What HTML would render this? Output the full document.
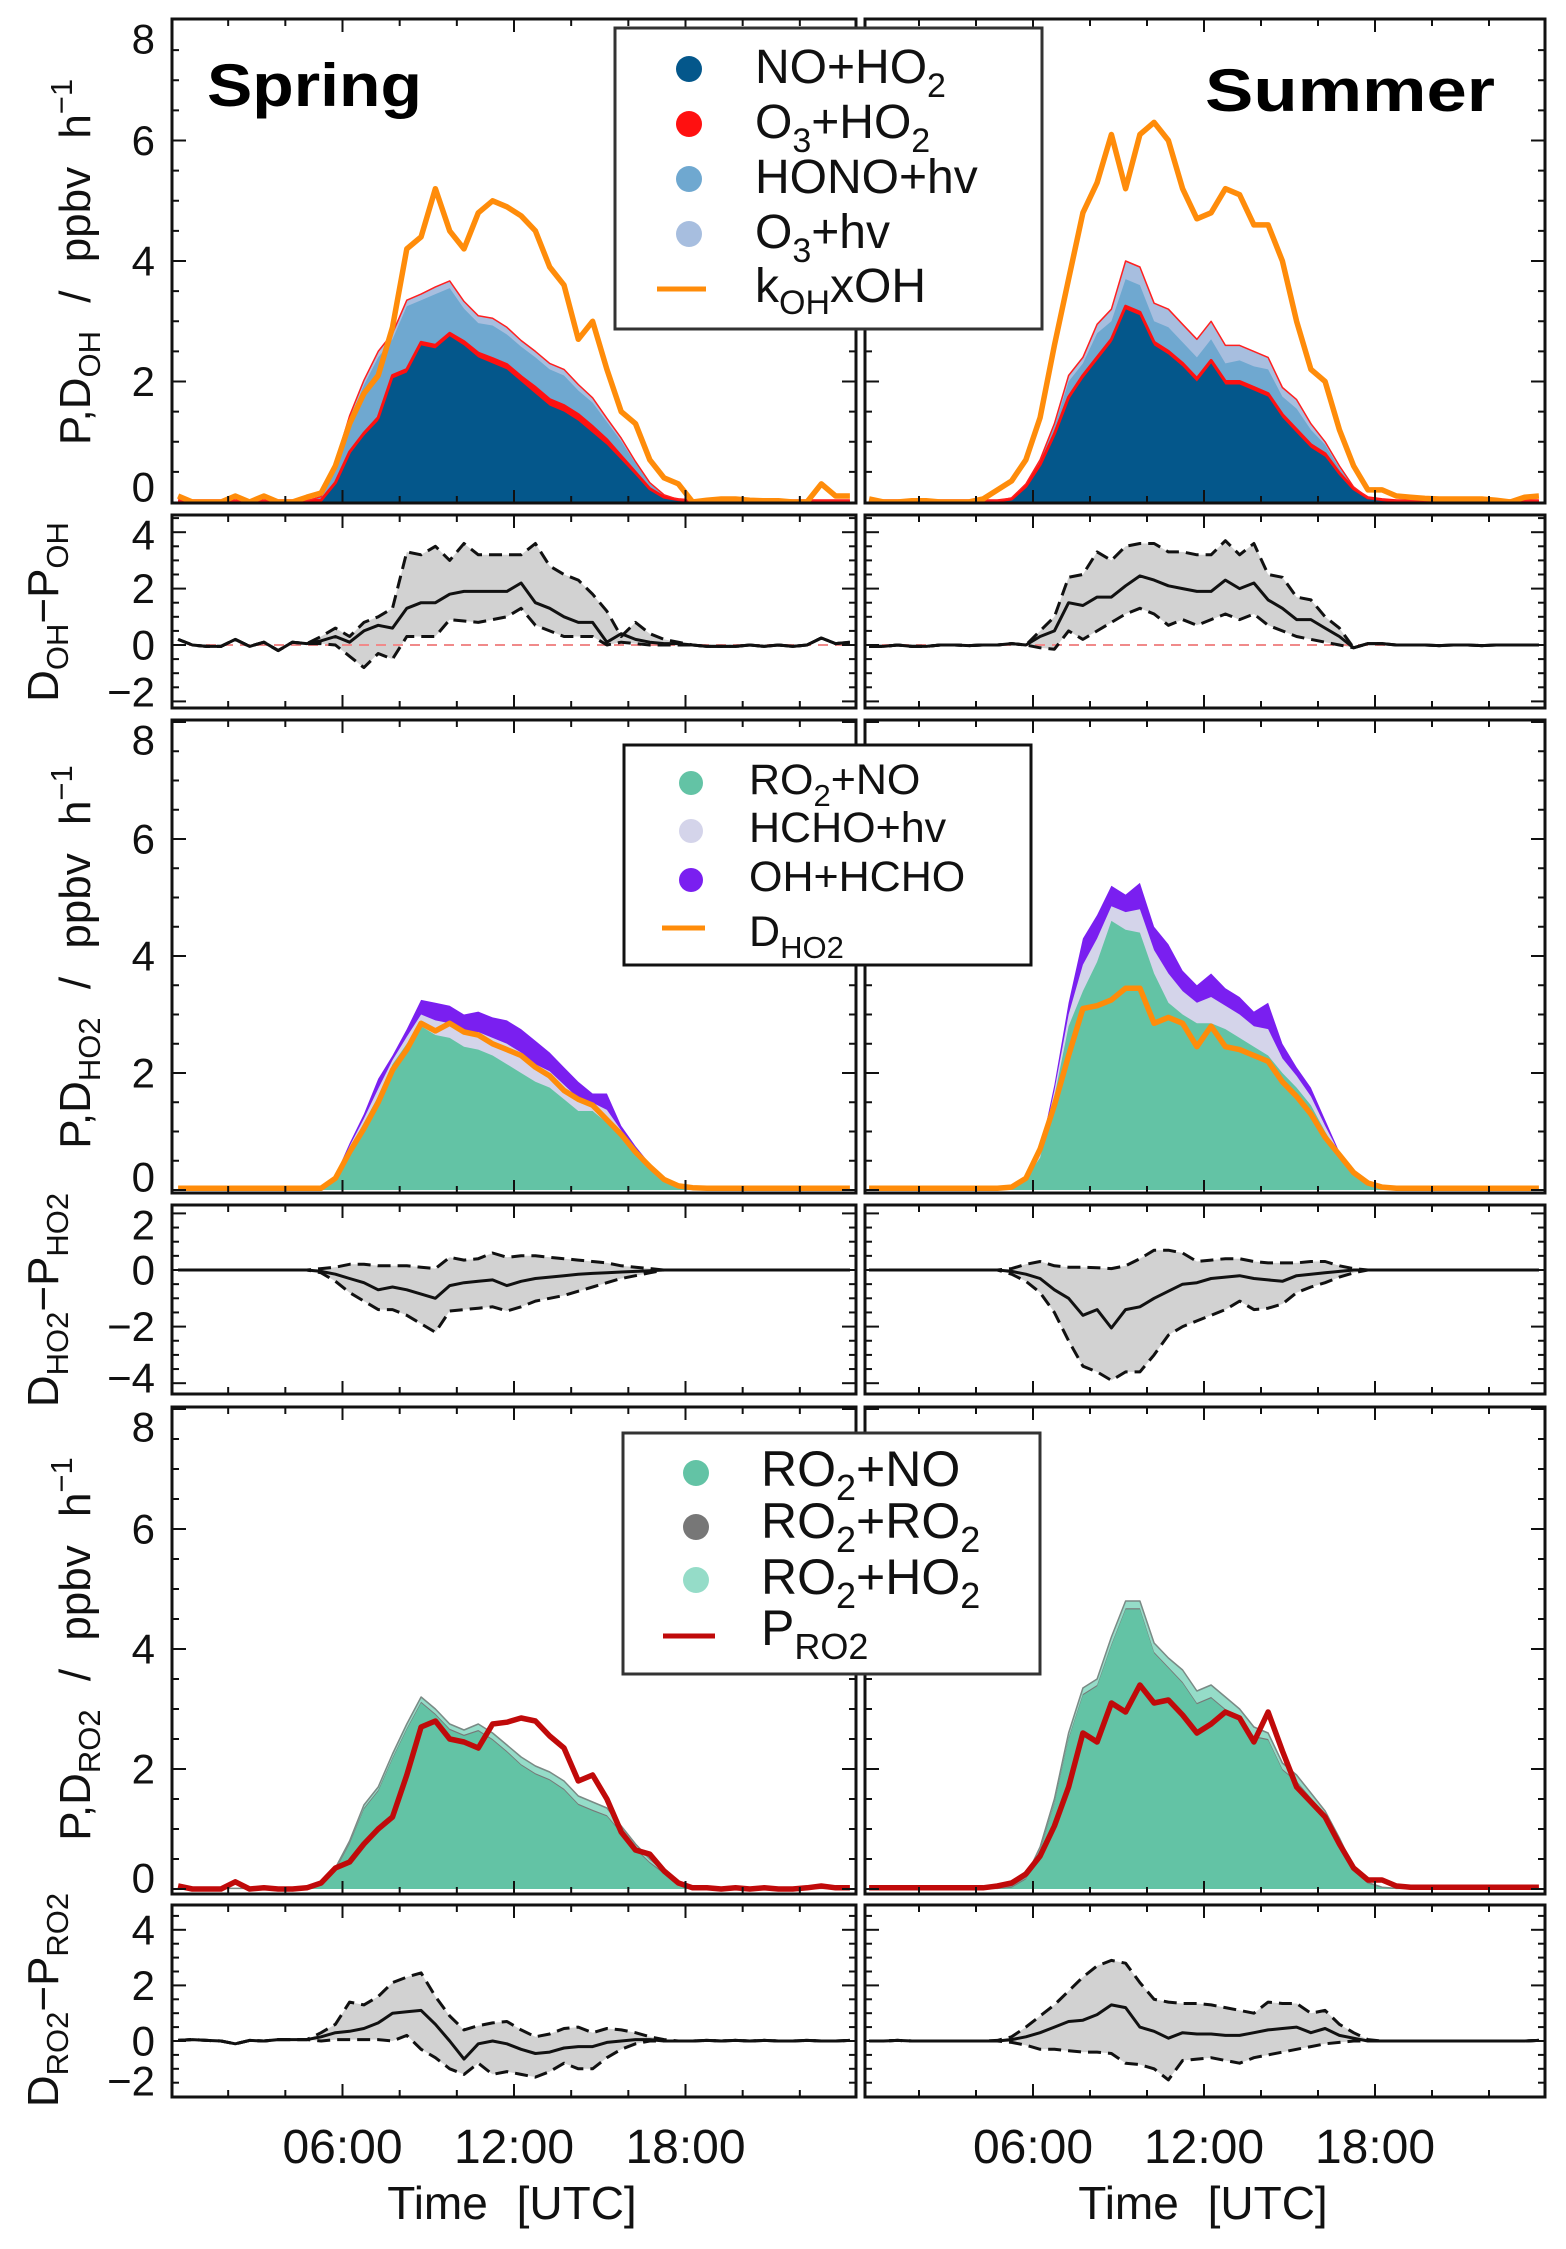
<!DOCTYPE html>
<html><head><meta charset="utf-8"><style>
html,body{margin:0;padding:0;background:#fff;}
svg{display:block;font-family:"Liberation Sans",sans-serif;}
</style></head><body>
<svg id="fig" xmlns="http://www.w3.org/2000/svg" width="1566" height="2249" viewBox="0 0 1566 2249">
<rect width="1566" height="2249" fill="#fff"/>
<g id="plots"></g>
<g id="static">
  <text x="207" y="106" font-size="60" font-weight="bold" textLength="215" lengthAdjust="spacingAndGlyphs">Spring</text>
  <text x="1205" y="111" font-size="60" font-weight="bold" textLength="290" lengthAdjust="spacingAndGlyphs">Summer</text>

  <g>
    <rect x="615" y="28" width="427" height="301" fill="#fff" stroke="#333" stroke-width="3"/>
    <circle cx="689" cy="69" r="13" fill="#04578b"/>
    <circle cx="689" cy="124" r="13" fill="#ff1010"/>
    <circle cx="689" cy="179" r="13" fill="#6fa8d0"/>
    <circle cx="689" cy="234" r="13" fill="#a7bedf"/>
    <line x1="657" y1="289" x2="706" y2="289" stroke="#ff8c0a" stroke-width="5"/>
    <g font-size="48" fill="#111">
      <text x="755" y="83">NO+HO<tspan font-size="34" dy="14">2</tspan></text>
      <text x="755" y="138">O<tspan font-size="34" dy="14">3</tspan><tspan dy="-14">+HO</tspan><tspan font-size="34" dy="14">2</tspan></text>
      <text x="755" y="193">HONO+hv</text>
      <text x="755" y="248">O<tspan font-size="34" dy="14">3</tspan><tspan dy="-14">+hv</tspan></text>
      <text x="755" y="302">k<tspan font-size="34" dy="12">OH</tspan><tspan dy="-12">xOH</tspan></text>
    </g>
  </g>

  <g>
    <rect x="624" y="745" width="407" height="220" fill="#fff" stroke="#111" stroke-width="3"/>
    <circle cx="691" cy="783" r="12" fill="#63c3a5"/>
    <circle cx="691" cy="831" r="12" fill="#d4d4ea"/>
    <circle cx="691" cy="880" r="12" fill="#7a1ff0"/>
    <line x1="662" y1="928" x2="705" y2="928" stroke="#ff8c0a" stroke-width="5"/>
    <g font-size="43" fill="#111">
      <text x="749" y="794">RO<tspan font-size="31" dy="12">2</tspan><tspan dy="-12">+NO</tspan></text>
      <text x="749" y="842">HCHO+hv</text>
      <text x="749" y="891">OH+HCHO</text>
      <text x="749" y="946">D<tspan font-size="31" dy="12">HO2</tspan></text>
    </g>
  </g>

  <g>
    <rect x="623" y="1433" width="417" height="241" fill="#fff" stroke="#333" stroke-width="3"/>
    <circle cx="696" cy="1473" r="13" fill="#63c3a5"/>
    <circle cx="696" cy="1527" r="13" fill="#777"/>
    <circle cx="696" cy="1580" r="13" fill="#95dcc8"/>
    <line x1="663" y1="1636" x2="715" y2="1636" stroke="#c00a0a" stroke-width="5"/>
    <g font-size="50" fill="#111">
      <text x="761" y="1486">RO<tspan font-size="36" dy="14">2</tspan><tspan dy="-14">+NO</tspan></text>
      <text x="761" y="1538">RO<tspan font-size="36" dy="14">2</tspan><tspan dy="-14">+RO</tspan><tspan font-size="36" dy="14">2</tspan></text>
      <text x="761" y="1594">RO<tspan font-size="36" dy="14">2</tspan><tspan dy="-14">+HO</tspan><tspan font-size="36" dy="14">2</tspan></text>
      <text x="761" y="1645">P<tspan font-size="36" dy="14">RO2</tspan></text>
    </g>
  </g>

  <g font-size="44" fill="#111" text-anchor="middle" word-spacing="16">
    <text transform="translate(90,262) rotate(-90)">P,D<tspan font-size="31" dy="10">OH</tspan><tspan dy="-10"> / ppbv h</tspan><tspan font-size="31" dy="-18">−1</tspan></text>
    <text transform="translate(90,957) rotate(-90)">P,D<tspan font-size="31" dy="10">HO2</tspan><tspan dy="-10"> / ppbv h</tspan><tspan font-size="31" dy="-18">−1</tspan></text>
    <text transform="translate(90,1649) rotate(-90)">P,D<tspan font-size="31" dy="10">RO2</tspan><tspan dy="-10"> / ppbv h</tspan><tspan font-size="31" dy="-18">−1</tspan></text>
    <text transform="translate(58,612) rotate(-90)">D<tspan font-size="31" dy="10">OH</tspan><tspan dy="-10">−P</tspan><tspan font-size="31" dy="10">OH</tspan></text>
    <text transform="translate(58,1300) rotate(-90)">D<tspan font-size="31" dy="10">HO2</tspan><tspan dy="-10">−P</tspan><tspan font-size="31" dy="10">HO2</tspan></text>
    <text transform="translate(58,2000) rotate(-90)">D<tspan font-size="31" dy="10">RO2</tspan><tspan dy="-10">−P</tspan><tspan font-size="31" dy="10">RO2</tspan></text>
    <text x="512" y="2219" font-size="46">Time [UTC]</text>
    <text x="1203" y="2219" font-size="46">Time [UTC]</text>
  </g>
</g>
</svg>
<script>
// ---- data: half-hourly values, times 00:15 ... 23:45 UTC ----
const hours = [0.25,0.75,1.25,1.75,2.25,2.75,3.25,3.75,4.25,4.75,5.25,5.75,6.25,6.75,7.25,7.75,8.25,8.75,9.25,9.75,10.25,10.75,11.25,11.75,12.25,12.75,13.25,13.75,14.25,14.75,15.25,15.75,16.25,16.75,17.25,17.75,18.25,18.75,19.25,19.75,20.25,20.75,21.25,21.75,22.25,22.75,23.25,23.75];
const xTickHours = [6,12,18];
const xTickLabels = ["06:00","12:00","18:00"];
const yTicksMain = [0,2,4,6,8];
const yTicksOHdiff = [4,2,0,-2];
const yTicksHO2diff = [2,0,-2,-4];
const yTicksRO2diff = [4,2,0,-2];

// OH budget - spring
const spKOH   = [0.1,0,0,0,0.1,0,0.1,0,0,0.08, 0.15,0.6,1.3,1.8,2.1,2.9,4.2,4.4,5.2,4.5, 4.2,4.8,5.0,4.9,4.75,4.5,3.9,3.6,2.7,3.0, 2.2,1.5,1.3,0.7,0.4,0.3,0,0.03,0.05,0.05, 0.03,0.02,0.02,0,0,0.3,0.1,0.1];
const spNOHO2 = [0,0,0,0,0,0,0,0,0,0, 0.02,0.3,0.8,1.1,1.35,2.05,2.15,2.6,2.55,2.75, 2.6,2.4,2.3,2.2,2.0,1.8,1.6,1.5,1.35,1.15, 0.95,0.7,0.45,0.2,0.07,0.02,0,0,0,0, 0,0,0,0,0,0,0,0];
const spO3HO2 = [0.02,0.02,0.02,0.02,0.02,0.02,0.02,0.02,0.02,0.02, 0.01,0.02,0.03,0.04,0.05,0.05,0.05,0.05,0.05,0.05, 0.06,0.07,0.08,0.08,0.08,0.1,0.1,0.1,0.1,0.1, 0.08,0.06,0.04,0.02,0.01,0.02,0.02,0.02,0.02,0.02, 0.02,0.02,0.02,0.02,0.02,0.02,0.02,0.02];
const spHONO   = [0,0,0,0,0,0,0,0,0,0, 0.05,0.3,0.55,0.8,1.0,0.6,1.05,0.7,0.85,0.75, 0.55,0.5,0.55,0.5,0.5,0.5,0.5,0.5,0.4,0.4, 0.3,0.25,0.15,0.08,0.03,0,0,0,0,0, 0,0,0,0,0,0,0,0];
const spO3hv   = [0,0,0,0,0,0,0,0,0,0, 0.01,0.03,0.05,0.08,0.1,0.1,0.1,0.1,0.12,0.12, 0.12,0.12,0.12,0.12,0.1,0.1,0.1,0.1,0.1,0.08, 0.06,0.05,0.03,0.02,0.01,0,0,0,0,0, 0,0,0,0,0,0,0,0];
// OH budget - summer
const suKOH   = [0.05,0,0,0.02,0.02,0,0,0,0.05,0.2, 0.35,0.7,1.4,2.6,3.7,4.8,5.3,6.1,5.2,6.1, 6.3,6.0,5.2,4.7,4.8,5.2,5.1,4.6,4.6,4.0, 3.0,2.2,2.0,1.2,0.6,0.2,0.2,0.1,0.08,0.06, 0.05,0.05,0.05,0.05,0.03,0.0,0.08,0.1];
const suNOHO2 = [0,0,0,0,0,0,0,0,0,0, 0.05,0.25,0.6,1.1,1.7,2.05,2.35,2.65,3.2,3.1, 2.6,2.45,2.25,2.0,2.3,1.95,1.95,1.85,1.75,1.4, 1.15,0.9,0.75,0.45,0.2,0.06,0.02,0,0,0, 0,0,0,0,0,0,0,0];
const suO3HO2 = [0.02,0.02,0.02,0.02,0.02,0.02,0.02,0.02,0.02,0.02, 0,0.01,0.02,0.03,0.04,0.05,0.05,0.05,0.05,0.05, 0.05,0.05,0.05,0.05,0.05,0.05,0.05,0.05,0.05,0.05, 0.05,0.05,0.05,0.03,0.02,0.01,0.02,0.02,0.02,0.02, 0.02,0.02,0.02,0.02,0.02,0.02,0.02,0.02];
const suHONO   = [0,0,0,0,0,0,0,0,0,0, 0.02,0.03,0.06,0.12,0.26,0.2,0.4,0.3,0.45,0.45, 0.35,0.4,0.35,0.35,0.35,0.3,0.35,0.35,0.4,0.3, 0.35,0.25,0.15,0.08,0.02,0,0,0,0,0, 0,0,0,0,0,0,0,0];
const suO3hv   = [0,0,0,0,0,0,0,0,0,0, 0,0.01,0.02,0.05,0.1,0.1,0.15,0.2,0.3,0.3, 0.3,0.3,0.3,0.3,0.3,0.3,0.25,0.25,0.2,0.15, 0.15,0.1,0.05,0.04,0.01,0,0,0,0,0, 0,0,0,0,0,0,0,0];
// OH D-P difference
const spOHmean = [0.2,0,-0.05,-0.05,0.2,-0.05,0.1,-0.2,0.1,0.05, 0.15,0.3,0.1,0.5,0.7,0.6,1.3,1.5,1.5,1.8, 1.9,1.9,1.9,1.9,2.2,1.5,1.3,1.0,0.8,0.8, 0.1,0.4,0.2,0.1,0.05,0.05,0,-0.05,-0.05,-0.05, 0,-0.05,0,-0.05,0,0.25,0.05,0.1];
const spOHup   = [0.2,0,-0.05,-0.05,0.2,-0.05,0.1,-0.2,0.1,0.05, 0.3,0.6,0.3,0.8,1.0,1.3,3.3,3.2,3.5,3.0, 3.6,3.2,3.2,3.2,3.2,3.6,2.8,2.5,2.3,1.8, 1.2,0.3,0.8,0.4,0.2,0.1,0,-0.05,-0.05,-0.05, 0,-0.05,0,-0.05,0,0.25,0.05,0.1];
const spOHlo   = [0.2,0,-0.05,-0.05,0.2,-0.05,0.1,-0.2,0.1,0.05, 0.05,0,-0.4,-0.8,-0.3,-0.5,0.3,0.3,0.3,0.9, 0.85,0.8,0.9,1.0,1.3,0.7,0.5,0.3,0.3,0.3, 0.0,0.1,0.05,0,0,0,0,-0.05,-0.05,-0.05, 0,-0.05,0,-0.05,0,0.25,0.05,0.1];
const suOHmean = [-0.05,-0.05,0,-0.05,-0.05,0,0,-0.02,0,0, 0.05,0,0.3,0.5,1.5,1.4,1.7,1.7,2.1,2.45, 2.3,2.1,2.0,1.9,1.9,2.3,2.0,2.2,1.6,1.3, 0.9,0.9,0.6,0.3,-0.1,0.05,0.05,0,0,0, -0.02,0,0,-0.02,0,0,0,0];
const suOHup   = [-0.05,-0.05,0,-0.05,-0.05,0,0,-0.02,0,0, 0.05,0,0.5,1.0,2.4,2.5,3.3,3.0,3.5,3.6, 3.6,3.3,3.3,3.2,3.2,3.7,3.2,3.6,2.5,2.4, 1.7,1.6,1.0,0.6,-0.1,0.05,0.05,0,0,0, -0.02,0,0,-0.02,0,0,0,0];
const suOHlo   = [-0.05,-0.05,0,-0.05,-0.05,0,0,-0.02,0,0, 0.05,0,-0.1,-0.15,0.5,0.2,0.5,0.8,1.1,1.3, 1.1,0.7,0.9,0.7,0.9,1.1,0.9,1.1,0.7,0.5, 0.3,0.2,0.1,0,-0.1,0.05,0.05,0,0,0, -0.02,0,0,-0.02,0,0,0,0];

// HO2 budget
const spRO2NO = [0,0,0,0,0,0,0,0,0,0, 0.02,0.2,0.7,1.15,1.6,2.15,2.5,2.8,2.65,2.6, 2.45,2.4,2.3,2.15,2.0,1.85,1.75,1.55,1.35,1.35, 1.15,0.95,0.65,0.4,0.2,0.08,0.03,0.02,0.02,0.02, 0.02,0.02,0.02,0.02,0.02,0.02,0.02,0.02];
const spHCHOhv = [0,0,0,0,0,0,0,0,0,0, 0.02,0.03,0.05,0.07,0.13,0.07,0.12,0.2,0.25,0.25, 0.25,0.3,0.3,0.35,0.35,0.3,0.28,0.25,0.22,0.14, 0.22,0.07,0.05,0.03,0.01,0.01,0,0,0,0, 0,0,0,0,0,0,0,0];
const spOHHCHO = [0,0,0,0,0,0,0,0,0,0, 0.01,0.02,0.05,0.08,0.17,0.08,0.13,0.25,0.3,0.3, 0.3,0.35,0.35,0.4,0.4,0.4,0.32,0.3,0.28,0.16, 0.28,0.08,0.05,0.02,0.01,0,0,0,0,0, 0,0,0,0,0,0,0,0];
const spDHO2   = [0.03,0.03,0.03,0.03,0.03,0.03,0.03,0.03,0.03,0.03, 0.03,0.2,0.65,1.05,1.5,2.05,2.4,2.85,2.72,2.85, 2.7,2.65,2.5,2.4,2.3,2.1,1.95,1.7,1.55,1.45, 1.2,0.95,0.65,0.4,0.18,0.07,0.04,0.03,0.03,0.03, 0.03,0.03,0.03,0.03,0.03,0.03,0.03,0.03];
const suRO2NO = [0,0,0,0,0,0,0,0,0,0, 0.02,0.2,0.55,1.6,2.8,3.4,3.9,4.6,4.45,4.4, 3.7,3.2,3.0,2.85,2.85,2.75,2.6,2.45,2.3,2.0, 1.75,1.45,1.0,0.6,0.3,0.12,0.04,0.02,0.02,0.02, 0.02,0.02,0.02,0.02,0.02,0.02,0.02,0.02];
const suHCHOhv = [0,0,0,0,0,0,0,0,0,0, 0.01,0.03,0.05,0.1,0.2,0.45,0.4,0.25,0.3,0.4, 0.4,0.5,0.4,0.35,0.45,0.4,0.4,0.35,0.45,0.25, 0.2,0.15,0.1,0.03,0.01,0.01,0,0,0,0, 0,0,0,0,0,0,0,0];
const suOHHCHO = [0,0,0,0,0,0,0,0,0,0, 0,0.02,0.05,0.1,0.2,0.45,0.4,0.35,0.3,0.45, 0.4,0.5,0.35,0.3,0.4,0.3,0.3,0.25,0.45,0.25, 0.15,0.15,0.1,0.02,0.01,0,0.01,0,0,0, 0,0,0,0,0,0,0,0];
const suDHO2   = [0.03,0.03,0.03,0.03,0.03,0.03,0.03,0.03,0.03,0.03, 0.05,0.2,0.7,1.45,2.3,3.1,3.15,3.25,3.45,3.45, 2.85,2.95,2.85,2.45,2.8,2.45,2.4,2.3,2.2,1.85, 1.6,1.3,0.9,0.6,0.3,0.12,0.05,0.03,0.03,0.03, 0.03,0.03,0.03,0.03,0.03,0.03,0.03,0.03];
// HO2 D-P difference
const spHO2mean = [0,0,0,0,0,0,0,0,0,0, -0.05,-0.15,-0.3,-0.45,-0.7,-0.6,-0.7,-0.85,-1.0,-0.55, -0.45,-0.4,-0.35,-0.55,-0.4,-0.3,-0.25,-0.2,-0.15,-0.12, -0.1,-0.07,-0.05,-0.03,0,0,0,0,0,0, 0,0,0,0,0,0,0,0];
const spHO2up   = [0,0,0,0,0,0,0,0,0,0, 0.05,0.1,0.2,0.2,0.15,0.15,0.15,0.1,0.05,0.45, 0.35,0.4,0.6,0.45,0.5,0.5,0.45,0.4,0.35,0.3, 0.25,0.15,0.1,0.05,0,0,0,0,0,0, 0,0,0,0,0,0,0,0];
const spHO2lo   = [0,0,0,0,0,0,0,0,0,0, -0.1,-0.4,-0.8,-1.1,-1.4,-1.4,-1.6,-1.9,-2.2,-1.45, -1.4,-1.35,-1.3,-1.45,-1.3,-1.1,-1.0,-0.9,-0.75,-0.6, -0.45,-0.3,-0.2,-0.1,0,0,0,0,0,0, 0,0,0,0,0,0,0,0];
const suHO2mean = [0,0,0,0,0,0,0,0,0,0, -0.05,-0.15,-0.3,-0.7,-1.0,-1.6,-1.4,-2.05,-1.4,-1.3, -1.0,-0.75,-0.5,-0.45,-0.3,-0.25,-0.2,-0.3,-0.35,-0.4, -0.2,-0.15,-0.1,-0.05,0,0,0,0,0,0, 0,0,0,0,0,0,0,0];
const suHO2up   = [0,0,0,0,0,0,0,0,0,0, 0.05,0.2,0.3,0.15,0.1,0.1,0.08,0.05,0.15,0.4, 0.7,0.7,0.6,0.3,0.35,0.4,0.4,0.3,0.25,0.25, 0.25,0.3,0.3,0.15,0.05,0,0,0,0,0, 0,0,0,0,0,0,0,0];
const suHO2lo   = [0,0,0,0,0,0,0,0,0,0, -0.15,-0.4,-0.8,-1.5,-2.5,-3.4,-3.6,-3.9,-3.6,-3.6, -3.0,-2.3,-2.0,-1.8,-1.6,-1.4,-1.1,-1.4,-1.35,-1.2, -0.8,-0.6,-0.45,-0.25,-0.1,0,0,0,0,0, 0,0,0,0,0,0,0,0];

// RO2 budget
const spRO2NOb = [0,0,0,0,0,0,0,0,0,0, 0.07,0.31,0.75,1.33,1.63,2.17,2.66,3.1,2.9,2.65, 2.55,2.63,2.48,2.28,2.06,1.91,1.81,1.65,1.4,1.3, 1.21,0.93,0.66,0.43,0.25,0.06,0.01,0,0,0, 0,0,0,0,0,0,0,0];
const spRO2RO2 = [0.01,0.01,0.01,0.01,0.01,0.01,0.01,0.01,0.01,0.01, 0.02,0.02,0.02,0.02,0.02,0.02,0.02,0.02,0.02,0.02, 0.02,0.02,0.02,0.02,0.02,0.02,0.02,0.02,0.02,0.02, 0.02,0.02,0.02,0.02,0.02,0.01,0.01,0.01,0.01,0.01, 0.01,0.01,0.01,0.01,0.01,0.01,0.01,0.01];
const spRO2HO2 = [0,0,0,0,0,0,0,0,0,0, 0.01,0.02,0.03,0.05,0.05,0.06,0.07,0.08,0.08,0.08, 0.08,0.1,0.1,0.1,0.12,0.12,0.12,0.13,0.13,0.13, 0.12,0.1,0.07,0.05,0.03,0.01,0,0,0,0, 0,0,0,0,0,0,0,0];
const spPRO2   = [0.05,0,0,0,0.12,0,0.02,0,0,0.02, 0.1,0.35,0.45,0.75,1.0,1.2,1.9,2.7,2.8,2.5, 2.45,2.35,2.75,2.78,2.85,2.8,2.55,2.35,1.8,1.9, 1.5,0.95,0.65,0.58,0.3,0.1,0.02,0.02,0,0.02, 0,0.02,0,0,0.02,0.05,0.02,0.02];
const suRO2NOb = [0,0,0,0,0,0,0,0,0,0, 0.02,0.16,0.64,1.42,2.5,3.23,3.38,4.06,4.66,4.66, 3.93,3.68,3.43,3.08,3.18,2.98,2.83,2.53,2.48,1.98, 1.78,1.5,1.23,0.79,0.31,0.09,0.02,0,0,0, 0,0,0,0,0,0,0,0];
const suRO2RO2 = [0.01,0.01,0.01,0.01,0.01,0.01,0.01,0.01,0.01,0.01, 0.02,0.02,0.02,0.02,0.02,0.02,0.02,0.02,0.02,0.02, 0.02,0.02,0.02,0.02,0.02,0.02,0.02,0.02,0.02,0.02, 0.02,0.02,0.02,0.02,0.02,0.01,0.01,0.01,0.01,0.01, 0.01,0.01,0.01,0.01,0.01,0.01,0.01,0.01];
const suRO2HO2 = [0,0,0,0,0,0,0,0,0,0, 0.01,0.02,0.04,0.06,0.08,0.1,0.1,0.12,0.12,0.12, 0.15,0.15,0.2,0.2,0.2,0.2,0.15,0.15,0.1,0.1, 0.1,0.08,0.05,0.04,0.02,0.01,0,0,0,0, 0,0,0,0,0,0,0,0];
const suPRO2   = [0.02,0.02,0.02,0.02,0.02,0.02,0.02,0.02,0.02,0.05, 0.1,0.25,0.55,1.05,1.7,2.6,2.45,3.1,2.95,3.4, 3.1,3.15,2.9,2.6,2.75,2.95,2.85,2.45,2.95,2.3, 1.7,1.45,1.2,0.75,0.35,0.15,0.15,0.05,0.03,0.03, 0.03,0.03,0.03,0.03,0.03,0.03,0.03,0.03];
// RO2 D-P difference
const spRO2mean = [0.02,0.05,0.02,0,-0.1,0.02,0,0.05,0.05,0.05, 0.15,0.3,0.35,0.45,0.65,1.0,1.05,1.1,0.6,0.0, -0.65,-0.1,0,-0.1,-0.3,-0.45,-0.4,-0.25,-0.2,-0.2, -0.05,0,0.05,0.05,0,0,0,0.02,0,0.02, 0,0.02,0,0,0.02,0,0,0.02];
const spRO2up   = [0.02,0.05,0.02,0,-0.1,0.02,0,0.05,0.05,0.05, 0.3,0.6,1.4,1.3,1.6,2.1,2.3,2.45,1.6,0.9, 0.4,0.55,0.65,0.7,0.4,0.15,0.25,0.45,0.5,0.3, 0.45,0.4,0.3,0.15,0.05,0,0,0.02,0,0.02, 0,0.02,0,0,0.02,0,0,0.02];
const spRO2lo   = [0.02,0.05,0.02,0,-0.1,0.02,0,0.05,0.05,0.05, 0,0.05,0.05,0.05,0.05,0,0.2,-0.3,-0.6,-1.0, -1.2,-0.8,-1.2,-1.1,-1.2,-1.3,-1.1,-0.8,-1.0,-1.0, -0.6,-0.3,-0.1,0,0,0,0,0.02,0,0.02, 0,0.02,0,0,0.02,0,0,0.02];
const suRO2mean = [0,0,0.02,0,0,0,0,0,0,0, 0.05,0.15,0.3,0.5,0.7,0.75,0.95,1.3,1.2,0.5, 0.35,0.1,0.3,0.25,0.25,0.2,0.2,0.3,0.4,0.45, 0.5,0.3,0.45,0.2,0.1,0,0,0,0,0, 0,0,0,0,0,0,0,0.02];
const suRO2up   = [0,0,0.02,0,0,0,0,0,0,0.02, 0.15,0.5,0.9,1.3,1.8,2.3,2.7,2.9,2.8,2.1, 1.5,1.4,1.35,1.35,1.3,1.2,1.1,1.0,1.4,1.35, 1.35,1.0,1.1,0.6,0.3,0.05,0,0,0,0, 0,0,0,0,0,0,0,0.02];
const suRO2lo   = [0,0,0.02,0,0,0,0,0,0,0, -0.05,-0.15,-0.3,-0.3,-0.35,-0.4,-0.4,-0.45,-0.8,-0.85, -1.0,-1.4,-0.7,-0.65,-0.6,-0.7,-0.8,-0.6,-0.5,-0.4, -0.3,-0.2,-0.1,-0.05,0,0,0,0,0,0, 0,0,0,0,0,0,0,0.02];

// ---- layout ----
const NS = "http://www.w3.org/2000/svg";
const plots = document.getElementById('plots');
const cols = [{x0:171,x1:857,fl:172,fr:856},{x0:862,x1:1546,fl:865,fr:1545}];
const rows = [
  {top:19,bot:503,z:502,u:60.25},
  {top:515,bot:708,z:645,u:28.2},
  {top:720,bot:1193,z:1190,u:58.5},
  {top:1205,bot:1394,z:1270,u:28.3},
  {top:1407,bot:1894,z:1889,u:60},
  {top:1905,bot:2097,z:2041,u:27.8}
];
function mk(tag, attrs, parent){
  const e = document.createElementNS(NS, tag);
  for (const k in attrs) e.setAttribute(k, attrs[k]);
  (parent||plots).appendChild(e);
  return e;
}
function scales(c, r){
  const C = cols[c], R = rows[r];
  return {
    x: h => C.x0 + (C.x1 - C.x0) * h / 24,
    y: v => R.z - v * R.u,
    C, R
  };
}
let clipN = 0;
function panelGroup(c, r, name){
  const s = scales(c, r);
  const id = 'clip' + (clipN++);
  const cp = mk('clipPath', {id:id});
  mk('rect', {x:s.C.fl, y:s.R.top, width:s.C.fr-s.C.fl, height:s.R.bot-s.R.top}, cp);
  const g = mk('g', {'clip-path':'url(#'+id+')'});
  
  
  return {s, g};
}
function pathFrom(xs, ys){ return xs.map((x,i)=>(i?'L':'M')+x.toFixed(1)+','+ys[i].toFixed(1)).join(''); }
function cum(arrs){
  const out=[]; let run=hours.map(()=>0);
  out.push(run.slice());
  arrs.forEach(a=>{ run=run.map((v,i)=>v+a[i]); out.push(run.slice()); });
  return out;
}
function drawArea(g, s, lo, hi, color, name, stroke){
  const xs = hours.map(s.x);
  const up = pathFrom(xs, hi.map(s.y));
  const back = xs.slice().reverse().map((x,i)=>'L'+x.toFixed(1)+','+s.y(lo[lo.length-1-i]).toFixed(1)).join('');
  const p = mk('path', {d: up + back + 'Z', fill: color, stroke: stroke||'none', 'stroke-width': stroke?1.5:0}, g);
  
  
  return p;
}
function drawLine(g, s, vals, color, w, name, dash){
  const attrs = {d: pathFrom(hours.map(s.x), vals.map(s.y)), fill:'none', stroke:color, 'stroke-width':w, 'stroke-linejoin':'round'};
  if (dash) attrs['stroke-dasharray'] = dash;
  const p = mk('path', attrs, g);
  
  
  return p;
}
function frame(c, r, name, yLabels){
  const s = scales(c, r);
  const f = mk('rect', {x:s.C.fl, y:s.R.top, width:s.C.fr-s.C.fl, height:s.R.bot-s.R.top, fill:'none', stroke:'#111', 'stroke-width':3});
  
  
  for (let h=2; h<24; h+=2){
    const x = s.x(h); const L = (h%6===0)?13:7;
    mk('line', {x1:x,y1:s.R.bot,x2:x,y2:s.R.bot-L,stroke:'#111','stroke-width':2});
    mk('line', {x1:x,y1:s.R.top,x2:x,y2:s.R.top+L,stroke:'#111','stroke-width':2});
  }
  const vMin = -(s.R.bot - s.R.z)/s.R.u, vMax = (s.R.z - s.R.top)/s.R.u;
  for (let v=Math.ceil(vMin*2)/2; v<=vMax+1e-6; v+=0.5){
    const y = s.y(v); if (y<s.R.top+2||y>s.R.bot-2) continue;
    const L = (Math.abs(v%2)<1e-6)?14:7;
    mk('line', {x1:s.C.fl,y1:y,x2:s.C.fl+L,y2:y,stroke:'#111','stroke-width':2});
    mk('line', {x1:s.C.fr,y1:y,x2:s.C.fr-L,y2:y,stroke:'#111','stroke-width':2});
  }
  if (yLabels){
    yLabels.forEach(v=>{
      let y = s.y(v);
      y = Math.max(s.R.top+20, Math.min(s.R.bot-16, y));
      const t = mk('text', {x:155, y:y, 'font-size':42, 'text-anchor':'end', 'dominant-baseline':'central', fill:'#111'});
      t.textContent = v<0 ? '−'+Math.abs(v) : String(v);
      
      
    });
  }
}

const seasons = [
  {c:0, key:'spring',
   oh:[spNOHO2,spO3HO2,spHONO,spO3hv], koh:spKOH, ohd:[spOHmean,spOHup,spOHlo],
   ho2:[spRO2NO,spHCHOhv,spOHHCHO], dho2:spDHO2, ho2d:[spHO2mean,spHO2up,spHO2lo],
   ro2:[spRO2NOb,spRO2RO2,spRO2HO2], pro2:spPRO2, ro2d:[spRO2mean,spRO2up,spRO2lo]},
  {c:1, key:'summer',
   oh:[suNOHO2,suO3HO2,suHONO,suO3hv], koh:suKOH, ohd:[suOHmean,suOHup,suOHlo],
   ho2:[suRO2NO,suHCHOhv,suOHHCHO], dho2:suDHO2, ho2d:[suHO2mean,suHO2up,suHO2lo],
   ro2:[suRO2NOb,suRO2RO2,suRO2HO2], pro2:suPRO2, ro2d:[suRO2mean,suRO2up,suRO2lo]}
];

function diffPanel(c, r, d, name, zeroLine){
  const {s, g} = panelGroup(c, r, name);
  drawArea(g, s, d[2], d[1], '#d2d2d2', name + '-range-band');
  if (zeroLine){
    const zl = mk('line', {x1:s.C.fl, y1:s.y(0), x2:s.C.fr, y2:s.y(0), stroke:'#f08a8a', 'stroke-width':2, 'stroke-dasharray':'10,7'}, g);
    
    
  }
  drawLine(g, s, d[1], '#111', 3, name + '-upper', '13,7');
  drawLine(g, s, d[2], '#111', 3, name + '-lower', '13,7');
  drawLine(g, s, d[0], '#111', 3, name + '-mean');
}

seasons.forEach(S=>{
  const c = S.c;
  let P = panelGroup(c, 0, S.key + '-oh-budget');
  let st = cum(S.oh);
  const ohCols = ['#04578b','#ff1010','#6fa8d0','#a7bedf'];
  const ohNames = ['no-ho2','o3-ho2','hono-hv','o3-hv'];
  for (let k=3;k>=0;k--) drawArea(P.g, P.s, st[0], st[k+1], ohCols[k], S.key+'-area-'+ohNames[k]);
  drawLine(P.g, P.s, st[2], '#ff1010', 3, S.key+'-o3-ho2-edge');
  drawLine(P.g, P.s, st[4], '#ff2020', 1.5, S.key+'-total-edge');
  drawLine(P.g, P.s, S.koh, '#ff8c0a', 5.5, S.key+'-koh-line');
  diffPanel(c, 1, S.ohd, S.key+'-oh-diff', true);
  P = panelGroup(c, 2, S.key + '-ho2-budget');
  st = cum(S.ho2);
  const hoCols = ['#63c3a5','#d4d4ea','#7a1ff0'];
  const hoNames = ['ro2-no','hcho-hv','oh-hcho'];
  for (let k=2;k>=0;k--) drawArea(P.g, P.s, st[0], st[k+1], hoCols[k], S.key+'-area-'+hoNames[k]);
  drawLine(P.g, P.s, S.dho2, '#ff8c0a', 5.5, S.key+'-dho2-line');
  diffPanel(c, 3, S.ho2d, S.key+'-ho2-diff', false);
  P = panelGroup(c, 4, S.key + '-ro2-budget');
  st = cum(S.ro2);
  const roCols = ['#63c3a5','#777777','#95dcc8'];
  const roNames = ['ro2-no','ro2-ro2','ro2-ho2'];
  for (let k=2;k>=0;k--) drawArea(P.g, P.s, st[0], st[k+1], roCols[k], S.key+'-area-ro2-'+roNames[k]);
  drawLine(P.g, P.s, st[3], '#7a8a85', 1.5, S.key+'-ro2-total-edge');
  drawLine(P.g, P.s, S.pro2, '#c00a0a', 5.5, S.key+'-pro2-line');
  diffPanel(c, 5, S.ro2d, S.key+'-ro2-diff', false);

  const lab = c===0;
  frame(c,0,S.key+'-oh-budget', lab?yTicksMain:null);
  frame(c,1,S.key+'-oh-diff', lab?yTicksOHdiff:null);
  frame(c,2,S.key+'-ho2-budget', lab?yTicksMain:null);
  frame(c,3,S.key+'-ho2-diff', lab?yTicksHO2diff:null);
  frame(c,4,S.key+'-ro2-budget', lab?yTicksMain:null);
  frame(c,5,S.key+'-ro2-diff', lab?yTicksRO2diff:null);
  const s = scales(c,5);
  xTickHours.forEach((h,i)=>{
    const t = mk('text', {x:s.x(h), y:2163, 'font-size':48, 'text-anchor':'middle', fill:'#111'});
    t.textContent = xTickLabels[i];
    
    
  });
});
document.getElementById('fig').appendChild(document.getElementById('static'));
</script>
</body></html>
